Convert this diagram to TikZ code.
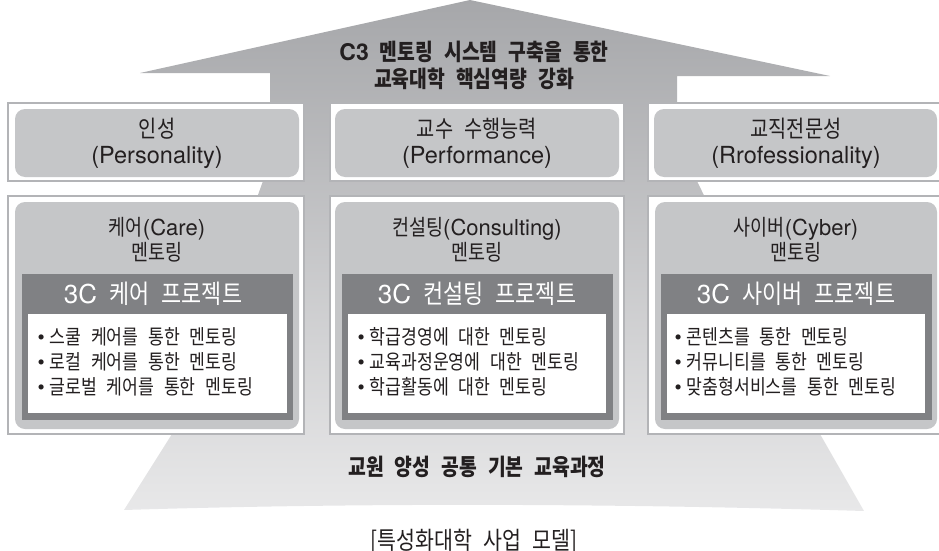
\documentclass[tikz,border=0pt]{standalone}
\usepackage{fontspec}
\setmainfont{Noto Sans CJK KR}[FakeStretch=0.84, WordSpace=2.5]
\newfontfamily\lat{TeX Gyre Heros}
\newcommand\la[1]{{\lat #1}}
\newcommand\bul{{\lat •}\hspace{5pt}}
\definecolor{arrowtop}{HTML}{A6A7AA}
\definecolor{arrowbot}{HTML}{E8E8E9}
\definecolor{framecol}{HTML}{B3B4B7}
\definecolor{innercol}{HTML}{C5C6C8}
\definecolor{bandcol}{HTML}{808184}
\definecolor{txt}{HTML}{231F20}
\tikzset{
  framebox/.style={draw=framecol, line width=1.5pt, fill=white},
  innerbox/.style={fill=innercol, rounded corners=10pt},
  bandbox/.style={fill=bandcol},
  listbox/.style={fill=white},
  toptxt/.style={text=txt, align=center, font=\fontsize{23.5}{26}\selectfont},
  midtxt/.style={text=txt, align=center, font=\fontsize{22}{25}\selectfont},
  bandtxt/.style={text=white, font=\fontsize{26}{27}\selectfont},
  itemtxt/.style={text=txt, align=left, anchor=west, font=\fontsize{20.5}{25}\selectfont},
  headtxt/.style={text=txt, align=center, font=\bfseries\fontsize{23}{27}\selectfont},
}
\begin{document}
\begin{tikzpicture}[x=1pt,y=-1pt]
\useasboundingbox (0,0) rectangle (939,551);
\begin{scope}
\clip (0,0) rectangle (939,551);
% big arrow + base
\shade[top color=arrowtop, bottom color=arrowbot]
  (470,0) -- (830,76) -- (677,76) -- (677,181) -- (697,181) -- (820,434) -- (864,511)
  .. controls (600,503) and (350,503) .. (124,510)
  -- (172,434) -- (263,181) -- (270,181) -- (270,73) -- (140,73) -- cycle;
% top row
\foreach \a/\b/\c/\d in {8/304/15/299, 330/624/335/619, 648/950/654/937}{
  \draw[framebox] (\a,103) rectangle (\b,181);
  \fill[innerbox] (\c,109) rectangle (\d,177);
}
% middle row
\foreach \a/\b/\c/\d/\e/\f/\g/\h in {8/304/15/299/22/293/28/287, 330/624/335/619/342/613/348/606, 648/950/655/937/661/932/667/925}{
  \draw[framebox] (\a,196) rectangle (\b,434);
  \fill[innerbox] (\c,202) rectangle (\d,429);
  \fill[bandbox] (\e,274) rectangle (\f,420);
  \fill[listbox] (\g,314) rectangle (\h,413);
}
\end{scope}
% title
\node[headtxt] (goal) at (474,65) {\la{C3} 멘토링 시스템 구축을 통한\\교육대학 핵심역량 강화};
% top row texts
\node[toptxt] (v1) at (157,143) {인성\\\la{(Personality)}};
\node[toptxt] (v2) at (477,143) {교수 수행능력\\\la{(Performance)}};
\node[toptxt] (v3) at (796,143) {교직전문성\\\la{(Rrofessionality)}};
% middle row titles
\node[midtxt] (m1) at (157,240) {케어\la{(Care)}\\멘토링};
\node[midtxt] (m2) at (477,240) {컨설팅\la{(Consulting)}\\멘토링};
\node[midtxt] (m3) at (796,240) {사이버\la{(Cyber)}\\맨토링};
% bands
\node[bandtxt] (p1) at (153,294) {\la{3C} 케어 프로젝트};
\node[bandtxt] (p2) at (477,294) {\la{3C} 컨설팅 프로젝트};
\node[bandtxt] (p3) at (796,294) {\la{3C} 사이버 프로젝트};
% lists
\node[itemtxt] (l1) at (34,362) {\bul 스쿨 케어를 통한 멘토링\\\bul 로컬 케어를 통한 멘토링\\\bul 글로벌 케어를 통한 멘토링};
\node[itemtxt] (l2) at (354,362) {\bul 학급경영에 대한 멘토링\\\bul 교육과정운영에 대한 멘토링\\\bul 학급활동에 대한 멘토링};
\node[itemtxt] (l3) at (671,362) {\bul 콘텐츠를 통한 멘토링\\\bul 커뮤니티를 통한 멘토링\\\bul 맞춤형서비스를 통한 멘토링};
% base text
\node[headtxt] (base) at (477,467) {교원 양성 공통 기본 교육과정};
\node[text=txt, font=\fontsize{24.5}{25}\selectfont] (cap) at (474,541) {[특성화대학 사업 모델]};
\end{tikzpicture}
\end{document}
